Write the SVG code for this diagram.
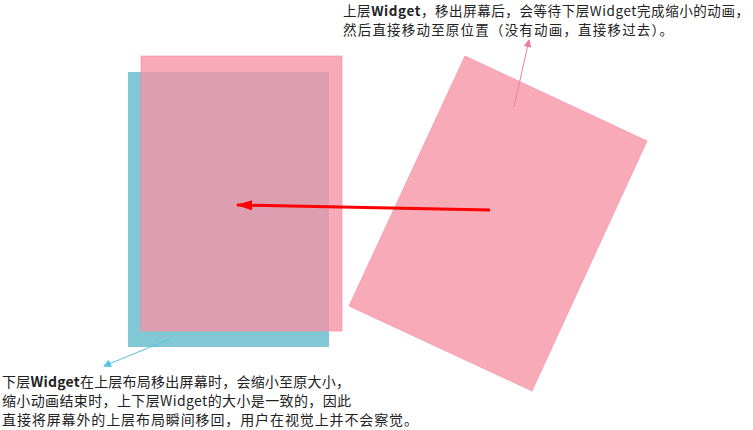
<svg xmlns="http://www.w3.org/2000/svg" width="753" height="430" viewBox="0 0 753 430">
<style>
text{font-family:"Noto Sans CJK SC","Noto Sans",sans-serif;font-size:14px;fill:#222}
.t{font-size:13.5px}
.b{font-weight:bold}
.pink{fill:#F692A5;fill-opacity:0.78;stroke:#F08CA0;stroke-width:1;stroke-opacity:0.6}
</style>
<defs>
<marker id="ar" markerWidth="8" markerHeight="8" refX="7" refY="4" orient="auto" markerUnits="userSpaceOnUse"><path d="M0,0 L8,4 L0,8 Z" fill="#F0809A"/></marker>
<marker id="at" markerWidth="8" markerHeight="8" refX="7" refY="4" orient="auto" markerUnits="userSpaceOnUse"><path d="M0,0 L8,4 L0,8 Z" fill="#4FC3E0"/></marker>
<marker id="ared" markerWidth="16" markerHeight="10" refX="15" refY="5" orient="auto" markerUnits="userSpaceOnUse"><path d="M0,0 L16,5 L0,10 Z" fill="#F00"/></marker>
</defs>
<g id="lower-widget"><rect x="128" y="72" width="201" height="275" fill="#82C8D4"/></g>
<g id="upper-widget"><rect class="pink" x="141" y="56" width="201" height="275"/></g>
<g id="moved-widget"><polygon class="pink" points="465,56 647,141 532,391 349,306"/></g>
<g id="connectors">
<line x1="490" y1="210" x2="237" y2="205" stroke="#F00" stroke-width="3" marker-end="url(#ared)"/>
<line x1="514" y1="107" x2="529" y2="40" stroke="#F0809A" stroke-width="1" marker-end="url(#ar)"/>
<line x1="170" y1="339" x2="104" y2="366" stroke="#4FC3E0" stroke-width="1" marker-end="url(#at)"/>
</g>
<g id="label-top">
<text class="t" x="343" y="16" textLength="406" lengthAdjust="spacing">上层<tspan class="b">Widget</tspan>，移出屏幕后，会等待下层Widget完成缩小的动画，</text>
<text class="t" x="343" y="35" textLength="330" lengthAdjust="spacing">然后直接移动至原位置（没有动画，直接移过去）。</text>
</g>
<g id="label-bottom">
<text x="2" y="386.5" textLength="348" lengthAdjust="spacing">下层<tspan class="b">Widget</tspan>在上层布局移出屏幕时，会缩小至原大小，</text>
<text x="2" y="405.5" textLength="349" lengthAdjust="spacing">缩小动画结束时，上下层Widget的大小是一致的，因此</text>
<text x="2" y="425" textLength="416" lengthAdjust="spacing">直接将屏幕外的上层布局瞬间移回，用户在视觉上并不会察觉。</text>
</g>
</svg>
